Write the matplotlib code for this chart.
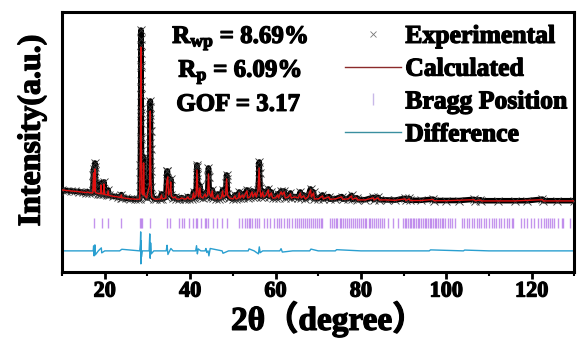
import numpy as np
import matplotlib
matplotlib.use("Agg")
import matplotlib.pyplot as plt
import matplotlib.patheffects as pe
from matplotlib.lines import Line2D
from matplotlib.ticker import MultipleLocator

plt.rcParams['font.family'] = ['Liberation Serif', 'Noto Sans CJK SC']
plt.rcParams['font.weight'] = 'bold'
plt.rcParams['mathtext.fontset'] = 'custom'
plt.rcParams['mathtext.rm'] = 'Liberation Serif:bold'
plt.rcParams['mathtext.it'] = 'Liberation Serif:bold'
plt.rcParams['mathtext.bf'] = 'Liberation Serif:bold'

obs_x = [10.0, 11.0, 12.0, 13.0, 14.0, 15.0, 15.5, 16.0, 16.4, 17.0, 17.2, 17.3, 17.35, 17.4, 17.45,
         17.5, 17.55, 17.6, 17.65, 17.7, 17.75, 17.8, 17.9, 18.5, 19.0, 19.1, 19.2, 19.7, 19.8, 19.9,
         20.6, 20.8, 20.95, 22.0, 23.0, 23.8, 23.9, 24.0, 25.0, 26.0, 27.0, 27.8, 28.2, 28.3,
         28.33, 28.36, 28.38, 28.40, 28.41, 28.42, 28.43, 28.44, 28.45, 28.46, 28.47, 28.48,
         28.50, 28.52, 28.54, 28.56, 28.58, 28.62, 28.7, 28.9, 29.0, 29.05, 29.1, 29.15, 29.25,
         29.6, 30.0, 30.4, 30.5, 30.55, 30.58, 30.6, 30.62, 30.64, 30.66, 30.68, 30.7, 30.73,
         30.76, 30.8, 30.9, 31.0, 31.5, 32.0, 33.0, 33.3, 33.5, 34.3, 34.5, 34.6, 34.7, 34.8,
         34.95, 35.3, 35.45, 35.6, 36.0, 36.5, 36.8, 37.5, 38.0, 38.5, 39.0, 39.5, 39.7, 40.5,
         40.8, 41.0, 41.4, 41.5, 41.6, 41.65, 41.7, 41.8, 42.0, 42.3, 42.5, 43.0, 43.5, 43.7,
         44.1, 44.25, 44.3, 44.35, 44.5, 44.9, 45.2, 45.4, 46.0, 46.5, 46.7, 47.3, 47.6, 47.8,
         48.3, 48.45, 48.55, 48.6, 48.75, 49.2, 50.0, 50.5, 50.7, 51.3, 51.5, 51.7, 52.3, 52.5,
         53.3, 53.5, 54.0, 54.5, 54.7, 55.2, 55.5, 55.9, 56.05, 56.15, 56.2, 56.25, 56.4, 56.6,
         57.0, 57.2, 57.8, 58.3, 58.5, 59.0, 59.3, 60.0, 60.5, 60.7, 61.3, 61.6, 62.0, 62.3,
         63.0, 63.5, 63.7, 64.5, 65.3, 65.8, 66.0, 66.6, 67.0, 67.6, 68.2, 68.4, 68.9, 69.1,
         70.0, 71.0, 71.2, 72.5, 72.7, 74.0, 75.5, 75.7, 77.0, 77.8, 78.0, 79.0, 79.2, 81.0,
         82.9, 83.0, 84.0, 84.3, 86.0, 88.0, 90.3, 90.5, 91.3, 91.5, 94.0, 96.9, 97.1, 100.0,
         103.0, 106.5, 106.7, 108.0, 108.2, 112.0, 116.0, 119.0, 122.5, 122.7, 126.0, 130.0]
obs_y = [1750, 1720, 1700, 1680, 1660, 1630, 1620, 1660, 1610, 1600, 1700, 2100, 2500, 2800, 2500,
         1900, 2200, 2600, 2900, 3100, 2700, 2100, 1650, 1570, 1560, 2100, 1560, 1540, 2150, 1540,
         1490, 1750, 1480, 1430, 1400, 1370, 1520, 1360, 1330, 1300, 1290, 1290, 1300, 1600,
         2300, 3000, 3700, 4400, 5100, 5800, 6500, 7200, 7900, 8600, 9300, 9750,
         9000, 8000, 6900, 5600, 4300, 3000, 1700, 1500, 2200, 2900, 3400, 2600, 1550,
         1400, 1350, 1700, 2200, 2900, 3500, 4100, 4700, 5300, 5900, 6200, 5500, 4700,
         3800, 2700, 1900, 1450, 1320, 1290, 1300, 1550, 1300, 1380, 2200, 2700, 2700, 2200,
         1550, 1750, 2300, 1480, 1350, 1420, 1300, 1290, 1370, 1310, 1300, 1420, 1300, 1310,
         1650, 1360, 1550, 2300, 3000, 2900, 2500, 1750, 1420, 1950, 1400, 1360, 1600, 1400,
         1550, 2400, 2850, 2400, 1650, 1400, 1750, 1360, 1310, 1550, 1310, 1360, 1750, 1410,
         1550, 2100, 2500, 2300, 1550, 1360, 1300, 1500, 1310, 1360, 1650, 1360, 1550, 1360,
         1750, 1360, 1420, 1700, 1420, 1650, 1420, 1750, 2300, 2900, 3150, 2600, 1850, 1420,
         1700, 1420, 1550, 1800, 1420, 1650, 1360, 1360, 1550, 1360, 1700, 1550, 1700, 1360,
         1420, 1600, 1360, 1420, 1360, 1650, 1360, 1500, 1310, 1420, 1800, 1420, 1650, 1310,
         1310, 1500, 1300, 1420, 1290, 1300, 1420, 1290, 1310, 1480, 1280, 1360, 1260, 1260,
         1380, 1260, 1380, 1260, 1250, 1240, 1330, 1230, 1330, 1230, 1230, 1290, 1220, 1220,
         1220, 1280, 1220, 1260, 1210, 1210, 1210, 1210, 1290, 1210, 1210, 1210]

# calculated profile
calc_x = [10.0, 12.0, 14.0, 15.5, 16.0, 16.4, 17.2, 17.4, 17.55, 17.7, 17.85, 18.5, 19.0, 19.1,
          19.25, 19.7, 19.8, 19.95, 20.6, 20.8, 20.95, 22.0, 23.0, 23.8, 23.9, 24.0, 26.0, 27.5,
          28.2, 28.35, 28.47, 28.55, 28.7, 29.0, 29.1, 29.25, 29.8, 30.5, 30.67, 30.8, 31.0,
          31.5, 32.0, 33.0, 33.3, 33.5, 34.3, 34.55, 34.75, 34.95, 35.3, 35.45, 35.6, 36.0,
          36.5, 36.8, 37.5, 38.0, 38.5, 39.0, 39.5, 39.7, 40.5, 40.8, 41.0, 41.4, 41.6, 41.8,
          42.0, 42.3, 42.5, 43.0, 43.5, 43.7, 44.1, 44.3, 44.5, 44.9, 45.2, 45.4, 46.0, 46.5,
          46.7, 47.3, 47.6, 47.8, 48.3, 48.55, 48.75, 49.2, 50.0, 50.5, 50.7, 51.3, 51.5, 51.7,
          52.3, 52.5, 53.3, 53.5, 54.0, 54.5, 54.7, 55.2, 55.5, 55.9, 56.15, 56.35, 56.6, 57.0,
          57.2, 57.8, 58.3, 58.5, 59.0, 59.3, 60.0, 60.5, 60.7, 61.3, 61.6, 62.0, 62.3, 63.0,
          63.5, 63.7, 64.5, 65.3, 65.8, 66.0, 66.6, 67.0, 67.6, 68.2, 68.4, 68.9, 69.1, 70.0,
          71.0, 71.2, 72.5, 72.7, 74.0, 75.5, 75.7, 77.0, 77.8, 78.0, 79.0, 79.2, 81.0, 82.9,
          83.0, 84.0, 84.3, 86.0, 88.0, 90.3, 90.5, 91.3, 91.5, 94.0, 96.9, 97.1, 100.0, 106.5,
          106.7, 108.0, 108.2, 112.0, 116.0, 122.5, 122.7, 126.0, 130.0]
calc_y = [1750, 1700, 1660, 1620, 1640, 1610, 1600, 2600, 1700, 2800, 1620, 1570, 1560, 2000,
          1560, 1540, 2050, 1530, 1490, 1700, 1480, 1430, 1400, 1370, 1500, 1360, 1300, 1280,
          1290, 3500, 8900, 4500, 1600, 1500, 3100, 1500, 1350, 2000, 5700, 2200, 1400,
          1300, 1280, 1300, 1500, 1300, 1350, 2200, 2400, 1500, 1700, 2150, 1450, 1350,
          1400, 1300, 1280, 1350, 1300, 1290, 1400, 1300, 1300, 1600, 1350, 1500, 2750, 1700,
          1400, 1850, 1400, 1350, 1550, 1400, 1500, 2550, 1600, 1400, 1700, 1350, 1300, 1500,
          1300, 1350, 1700, 1400, 1500, 2300, 1500, 1350, 1300, 1450, 1300, 1350, 1600, 1350,
          1500, 1350, 1700, 1350, 1400, 1650, 1400, 1600, 1400, 1700, 2850, 1800, 1400, 1650,
          1400, 1500, 1750, 1400, 1600, 1350, 1350, 1500, 1350, 1650, 1500, 1650, 1350, 1400,
          1550, 1350, 1400, 1350, 1600, 1350, 1450, 1300, 1400, 1750, 1400, 1600, 1300, 1300,
          1450, 1300, 1400, 1280, 1300, 1400, 1280, 1300, 1450, 1280, 1350, 1250, 1250, 1350,
          1250, 1350, 1250, 1250, 1230, 1300, 1220, 1300, 1220, 1220, 1270, 1210, 1210, 1260,
          1210, 1240, 1200, 1200, 1200, 1260, 1200, 1200, 1200]

# Bragg reflections (2theta)
bragg_pos = [17.6, 19.4, 20.8, 23.9, 28.2, 28.5, 28.7, 30.7, 34.7, 35.4, 37.5, 38.1, 38.6, 39.7,
             40.6, 41.4, 41.6, 42.6, 43.4, 43.7, 44.2, 45.3, 46.3, 47.5, 48.6, 51.4, 52.2, 52.8,
             53.3, 53.7, 54.1, 54.5, 55.3, 55.7, 56.2, 57.2, 58.0, 58.8, 59.6, 60.4, 60.8, 61.2,
             62.0, 62.7, 63.2, 63.9, 64.6, 65.0, 65.6, 66.0, 66.4, 66.9, 67.4, 67.8, 68.2, 68.7,
             69.2, 69.6, 70.1, 70.6, 71.0, 72.7, 73.2, 73.6, 74.1, 74.5, 75.0, 75.4, 75.9, 76.3,
             76.8, 77.2, 77.7, 78.1, 78.6, 79.0, 79.5, 80.0, 80.4, 80.9, 81.3, 81.8, 82.2, 82.7,
             83.1, 83.6, 84.0, 84.5, 85.0, 85.5, 86.3, 87.5, 88.7, 89.9, 90.3, 90.6, 91.0, 91.4,
             91.7, 92.1, 92.5, 92.9, 93.3, 93.7, 94.1, 94.5, 94.9, 95.3, 95.7, 96.1, 96.5, 96.9,
             97.3, 97.7, 98.1, 98.5, 98.9, 99.3, 99.8, 100.3, 100.8, 101.4, 102.0, 103.6, 104.2,
             104.8, 105.4, 106.0, 106.5, 107.1, 107.7, 108.2, 108.8, 109.4, 110.0, 110.6, 111.2,
             111.7, 112.3, 112.9, 113.5, 114.1, 114.7, 115.3, 115.7, 117.6, 118.3, 119.0, 119.8,
             120.6, 121.4, 122.1, 122.8, 123.3, 123.8, 124.3, 124.8, 125.3, 126.2, 127.0, 127.4,
             129.0]

# difference curve (obs - calc), spikes
diff_x = [10.0, 15.0, 17.3, 17.4, 17.5, 17.7, 17.8, 18.5, 19.2, 19.3, 20.0, 23.5, 24.0, 28.2,
          28.35, 28.42, 28.47, 28.52, 28.6, 28.8, 30.4, 30.55, 30.65, 30.75, 30.9, 31.5, 34.4,
          34.6, 34.8, 35.2, 35.5, 36.0, 41.3, 41.5, 41.7, 41.9, 42.5, 43.5, 43.7, 43.9, 44.2,
          44.4, 44.7, 47.5, 47.7, 49.0, 53.6, 53.8, 55.0, 56.0, 56.2, 56.4, 57.0, 61.0, 61.3,
          61.6, 64.0, 68.0, 68.3, 70.0, 74.0, 74.3, 80.0, 96.0, 96.3, 104.0, 104.3, 110.0, 130.0]
diff_y = [0, 0, 0, 250, -250, 300, -200, 0, 150, -100, 0, 0, 80, 0,
          350, 950, -650, 500, -300, 0, 0, 850, -370, 400, -150, 0, 0,
          280, -180, 0, 120, 0, 0, 260, -150, 100, 0, 0, 120, -80, 0,
          -250, 120, 0, -120, 0, 0, 100, 0, -150, 200, -90, 0, 0, 110,
          -60, 0, 0, 90, 0, 0, 60, 0, 0, 50, 0, 40, 0, 0]

diff_offset = -1300
bragg_lo, bragg_hi = -150, 350

heavy = [pe.withStroke(linewidth=0.9, foreground='black')]

fig = plt.figure(figsize=(5.77, 3.45), dpi=100)
ax = fig.add_axes([0.1075, 0.212, 0.888, 0.753])

# dense experimental points make a black band
ax.plot(obs_x, obs_y, color='black', lw=4.0, solid_joinstyle='round', zorder=2)
ax.plot(obs_x, obs_y, ls='none', marker='x', ms=6, mew=0.6, color='#333333', zorder=3)
ax.plot(calc_x, calc_y, color='#e01010', lw=1.0, zorder=4)
ax.vlines(bragg_pos, bragg_lo, bragg_hi, color='#b070e8', lw=1.0, alpha=0.75, zorder=2)
ax.plot(diff_x, np.array(diff_y) + diff_offset, color='#2a9fd0', lw=1.0, zorder=2)

ax.set_xlim(10, 130)
ax.set_ylim(-2350, 10650)
ax.set_yticks([])
ax.xaxis.set_major_locator(MultipleLocator(20))
ax.xaxis.set_minor_locator(MultipleLocator(10))
ax.tick_params(axis='x', which='major', direction='out', length=5, width=2, labelsize=16, pad=2)
ax.tick_params(axis='x', which='minor', direction='out', length=3, width=1.5)
for lab in ax.get_xticklabels():
    lab.set_fontweight('bold')
    lab.set_path_effects(heavy)
for sp in ax.spines.values():
    sp.set_linewidth(2.2)

xl = ax.set_xlabel('2θ（degree）', fontsize=24, fontweight='bold')
yl = ax.set_ylabel('Intensity(a.u.)', fontsize=23, fontweight='bold')
ax.xaxis.set_label_coords(0.52, -0.113)
ax.yaxis.set_label_coords(-0.03, 0.545)
xl.set_path_effects(heavy)
yl.set_path_effects(heavy)

ax.text(0.215, 0.90, r'$\mathrm{R}_{\mathrm{wp}}$ = 8.69%', transform=ax.transAxes,
        fontsize=18, fontweight='bold', va='center', path_effects=heavy)
ax.text(0.227, 0.77, r'$\mathrm{R}_{\mathrm{p}}$ = 6.09%', transform=ax.transAxes,
        fontsize=18, fontweight='bold', va='center', path_effects=heavy)
ax.text(0.223, 0.645, 'GOF = 3.17', transform=ax.transAxes,
        fontsize=18, fontweight='bold', va='center', path_effects=heavy)

handles = [
    Line2D([], [], ls='none', marker='x', ms=5, mew=0.6, color='#777777'),
    Line2D([], [], color='#8b2a2a', lw=1.0),
    Line2D([], [], ls='none', marker='|', ms=8, mew=1.0, color='#c8b8e8'),
    Line2D([], [], color='#3a8fa0', lw=1.0),
]
labels = ['Experimental', 'Calculated', 'Bragg Position', 'Difference']
leg = ax.legend(handles, labels, loc='upper left', bbox_to_anchor=(0.517, 1.02), frameon=False,
                handlelength=2.2, handletextpad=0.15, labelspacing=0.38, borderaxespad=0.3,
                prop={'size': 18.5, 'weight': 'bold'})
for t in leg.get_texts():
    t.set_path_effects(heavy)

fig.savefig('out.png', dpi=100)
